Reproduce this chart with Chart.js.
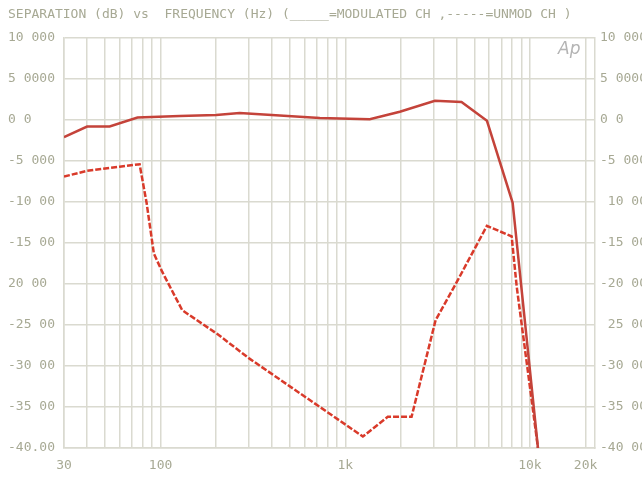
<!DOCTYPE html>
<html>
<head>
<meta charset="utf-8">
<script src="https://cdn.jsdelivr.net/npm/chart.js@4.4.1/dist/chart.umd.min.js"></script>
<style>
  html, body { margin: 0; padding: 0; background: #fff; }
  canvas { display: block; }
</style>
</head>
<body>
<canvas id="sep" width="642" height="480"></canvas>
<script>
// ---- data ----
const modFreq  = [30, 40, 53, 75, 127, 200, 268, 400, 728, 1358, 1974, 3057, 4260, 5850, 8060, 11050];
const modDb    = [-2.1, -0.8, -0.8, 0.3, 0.5, 0.6, 0.85, 0.6, 0.25, 0.1, 1.0, 2.35, 2.2, -0.1, -10.1, -40];

const unmodFreq = [30, 40, 60, 77, 84, 92, 102, 131, 203, 303, 1245, 1699, 2285, 3085, 4073, 5850, 7960, 8475, 11050];
const unmodDb   = [-6.9, -6.2, -5.7, -5.4, -10.1, -16.3, -18.5, -23.2, -26.1, -29.1, -38.6, -36.2, -36.2, -24.4, -19.5, -12.9, -14.2, -20.3, -40];

const xGridVals  = [30, 40, 50, 60, 70, 80, 90,
                    100, 200, 300, 400, 500, 600, 700, 800, 900,
                    1000, 2000, 3000, 4000, 5000, 6000, 7000, 8000, 9000,
                    10000, 20000];
const xLabelVals = [30, 100, 1000, 10000, 20000];
const xLabelText = ['30', '100', '1k', '10k', '20k'];

const yTickVals  = [10, 5, 0, -5, -10, -15, -20, -25, -30, -35, -40];
const yLeftText  = ['10 000', '5 0000', '0 0', '-5 000', '-10 00', '-15 00', '20 00', '-25 00', '-30 00', '-35 00', '-40.00'];
const yRightText = ['10 000', '5 0000', '0 0', '-5 000', ' 10 000', '-15 000', '-20 000', ' 25 000', '-30 000', '-35 000', '-40 000'];

const TITLE = 'SEPARATION (dB) vs  FREQUENCY (Hz) (_____=MODULATED CH ,-----=UNMOD CH )';

const INK  = '#a7a994';
const GRID = '#dadad0';
const MONO = { family: 'DejaVu Sans Mono', size: 13 };

const toPoints = (xs, ys) => xs.map((x, i) => ({ x, y: ys[i] }));

const decorations = {
  id: 'decorations',
  afterDraw(chart) {
    const { ctx } = chart;
    ctx.save();
    ctx.fillStyle = INK;
    ctx.font = '13px "DejaVu Sans Mono"';
    ctx.textBaseline = 'middle';
    ctx.textAlign = 'left';
    ctx.fillText(TITLE, 8, 15);
    ctx.fillStyle = '#b4b4b4';
    ctx.font = 'italic 17px "DejaVu Sans"';
    ctx.fillText('Ap', 558, 50);
    ctx.restore();
  },
};

new Chart(document.getElementById('sep'), {
  type: 'line',
  data: {
    datasets: [
      {
        label: 'MODULATED CH',
        data: toPoints(modFreq, modDb),
        borderColor: '#c4433a',
        borderWidth: 2.5,
        pointRadius: 0,
        tension: 0,
      },
      {
        label: 'UNMOD CH',
        data: toPoints(unmodFreq, unmodDb),
        borderColor: '#d93a2a',
        borderWidth: 2.5,
        borderDash: [6, 2],
        pointRadius: 0,
        tension: 0,
      },
    ],
  },
  options: {
    responsive: false,
    devicePixelRatio: 1,
    animation: false,
    layout: { padding: { left: 8, top: 38, right: 0, bottom: 0 } },
    plugins: { legend: { display: false }, tooltip: { enabled: false } },
    scales: {
      x: {
        type: 'logarithmic',
        min: 30,
        max: 22500,
        afterBuildTicks: s => { s.ticks = xGridVals.map(v => ({ value: v })); },
        afterFit: s => { s.height = 32; },
        grid: { color: GRID, lineWidth: 1.5, drawTicks: false },
        border: { color: GRID, width: 1.5 },
        ticks: {
          autoSkip: false,
          maxRotation: 0,
          padding: 10,
          color: INK,
          font: MONO,
          callback: v => {
            const i = xLabelVals.indexOf(v);
            return i >= 0 ? xLabelText[i] : '';
          },
        },
      },
      y: {
        position: 'left',
        min: -40,
        max: 10,
        afterBuildTicks: s => { s.ticks = yTickVals.map(v => ({ value: v })); },
        afterFit: s => { s.width = 56; },
        grid: { color: GRID, lineWidth: 1.5, drawTicks: false },
        border: { color: GRID, width: 1.5 },
        ticks: {
          crossAlign: 'far',
          color: INK,
          font: MONO,
          callback: v => yLeftText[yTickVals.indexOf(v)],
        },
      },
      y2: {
        position: 'right',
        min: -40,
        max: 10,
        afterBuildTicks: s => { s.ticks = yTickVals.map(v => ({ value: v })); },
        afterFit: s => { s.width = 47; },
        grid: { display: false, drawTicks: false },
        border: { color: GRID, width: 1.5 },
        ticks: {
          padding: 5,
          color: INK,
          font: MONO,
          callback: v => yRightText[yTickVals.indexOf(v)],
        },
      },
    },
  },
  plugins: [decorations],
});
</script>
</body>
</html>
